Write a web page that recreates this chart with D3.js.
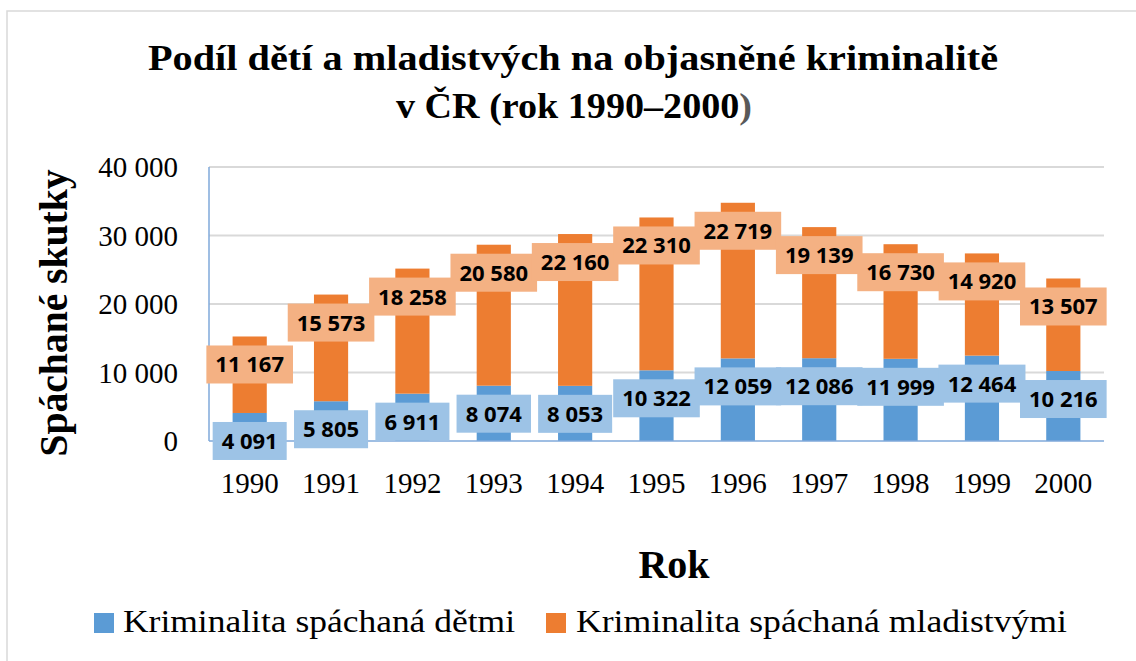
<!DOCTYPE html>
<html>
<head>
<meta charset="utf-8">
<script src="https://cdn.jsdelivr.net/npm/d3@7"></script>
<style>
  html, body { margin: 0; padding: 0; background: #fff; }
  svg { display: block; }
</style>
</head>
<body>
<svg id="chart" width="1136" height="661"></svg>
<script>
// data
var years = ["1990", "1991", "1992", "1993", "1994", "1995", "1996", "1997", "1998", "1999", "2000"];
var deti = [4091, 5805, 6911, 8074, 8053, 10322, 12059, 12086, 11999, 12464, 10216];
var mladiství = [11167, 15573, 18258, 20580, 22160, 22310, 22719, 19139, 16730, 14920, 13507];
var yTicks = [0, 10000, 20000, 30000, 40000];
var seriesNames = ["Kriminalita spáchaná dětmi", "Kriminalita spáchaná mladistvými"];

var colors = ["#5B9BD5", "#ED7D31"];
var boxColors = ["#9DC3E6", "#F4B183"];
var serif = "'Liberation Serif', 'Times New Roman', serif";
var sans = "'Open Sans', sans-serif";

var svg = d3.select("#chart");

// outer chart border (only left/top visible)
svg.append("rect")
  .attr("x", 7).attr("y", 11)
  .attr("width", 1160).attr("height", 700)
  .attr("fill", "none")
  .attr("stroke", "#d9d9d9")
  .attr("stroke-width", 1.5);

var x = d3.scaleBand().domain(years).range([209, 1104]).paddingInner(0.58).paddingOuter(0.29);
var y = d3.scaleLinear().domain([0, 40000]).range([441, 167]);

// gridlines
svg.append("g").selectAll("line")
  .data(yTicks.filter((t) => t > 0))
  .enter().append("line")
  .attr("x1", 209).attr("x2", 1104)
  .attr("y1", (d) => y(d)).attr("y2", (d) => y(d))
  .attr("stroke", "#d9d9d9")
  .attr("stroke-width", 2);

// y tick labels
svg.append("g").selectAll("text")
  .data(yTicks)
  .enter().append("text")
  .attr("x", 178)
  .attr("y", (d) => y(d) + 10)
  .attr("text-anchor", "end")
  .style("font-family", serif)
  .style("font-size", "29px")
  .attr("fill", "#000")
  .text((d) => d3.format(",")(d).replace(/,/g, " "));

// stacked data
var rows = years.map((yr, i) => ({ year: yr, deti: deti[i], mlad: mladiství[i] }));
var stack = d3.stack().keys(["deti", "mlad"]);
var layers = stack(rows);

var bars = svg.append("g");
layers.forEach(function (layer, k) {
  bars.append("g").selectAll("rect")
    .data(layer)
    .enter().append("rect")
    .attr("x", (d) => x(d.data.year))
    .attr("width", x.bandwidth())
    .attr("y", (d) => y(d[1]))
    .attr("height", (d) => y(d[0]) - y(d[1]))
    .attr("fill", colors[k]);
});

// axis lines
svg.append("line")
  .attr("x1", 209).attr("x2", 209).attr("y1", 167).attr("y2", 441)
  .attr("stroke", "#7FA9DA").attr("stroke-width", 1.5);
svg.append("line")
  .attr("x1", 209).attr("x2", 1104).attr("y1", 441).attr("y2", 441)
  .attr("stroke", "#7FA9DA").attr("stroke-width", 1.5);

// x tick labels
svg.append("g").selectAll("text")
  .data(years)
  .enter().append("text")
  .attr("x", (d) => x(d) + x.bandwidth() / 2)
  .attr("y", 493)
  .attr("text-anchor", "middle")
  .style("font-family", serif)
  .style("font-size", "29px")
  .text((d) => d);

// data labels in boxes, placed ~28px under the top of each segment
var fmt = (v) => d3.format(",")(v).replace(/,/g, " ");
layers.forEach(function (layer, k) {
  var g = svg.append("g").selectAll("g")
    .data(layer)
    .enter().append("g")
    .attr("transform", (d) => "translate(" + (x(d.data.year) + x.bandwidth() / 2) + "," + (y(d[1]) + 28) + ")");
  var rect = g.append("rect").attr("fill", boxColors[k]);
  var txt = g.append("text")
    .attr("y", 8)
    .attr("text-anchor", "middle")
    .style("font-family", sans)
    .style("font-weight", 700)
    .style("font-size", "22px")
    .attr("fill", "#000")
    .text((d) => fmt(d[1] - d[0]));
  txt.each(function () {
    var bb = this.getBBox();
    d3.select(this.parentNode).select("rect")
      .attr("x", -bb.width / 2 - 9)
      .attr("width", bb.width + 18)
      .attr("y", -19)
      .attr("height", 38);
  });
});

// title
var title = svg.append("g")
  .style("font-family", serif)
  .style("font-weight", 700)
  .style("font-size", "36px");
title.append("text")
  .attr("x", 573).attr("y", 70)
  .attr("text-anchor", "middle")
  .attr("textLength", 850)
  .attr("lengthAdjust", "spacingAndGlyphs")
  .text("Podíl dětí a mladistvých na objasněné kriminalitě");
var t2 = title.append("text")
  .attr("x", 574).attr("y", 118)
  .attr("text-anchor", "middle")
  .attr("textLength", 356)
  .attr("lengthAdjust", "spacingAndGlyphs");
t2.append("tspan").text("v ČR (rok 1990–2000");
t2.append("tspan").attr("fill", "#595959").text(")");

// axis titles
svg.append("text")
  .attr("transform", "translate(67,313) rotate(-90)")
  .attr("text-anchor", "middle")
  .attr("textLength", 287)
  .attr("lengthAdjust", "spacingAndGlyphs")
  .style("font-family", serif)
  .style("font-weight", 700)
  .style("font-size", "39px")
  .text("Spáchané skutky");

svg.append("text")
  .attr("x", 674).attr("y", 578)
  .attr("text-anchor", "middle")
  .style("font-family", serif)
  .style("font-weight", 700)
  .style("font-size", "40px")
  .text("Rok");

// legend
var legendPos = [{ sq: 94, tx: 123, len: 392 }, { sq: 546, tx: 576, len: 491 }];
var legend = svg.append("g").selectAll("g")
  .data(seriesNames)
  .enter().append("g");
legend.append("rect")
  .attr("x", (d, i) => legendPos[i].sq)
  .attr("y", 613)
  .attr("width", 20).attr("height", 20)
  .attr("fill", (d, i) => colors[i]);
legend.append("text")
  .attr("x", (d, i) => legendPos[i].tx)
  .attr("y", 632)
  .attr("textLength", (d, i) => legendPos[i].len)
  .attr("lengthAdjust", "spacingAndGlyphs")
  .style("font-family", serif)
  .style("font-size", "32px")
  .text((d) => d);
</script>
</body>
</html>
